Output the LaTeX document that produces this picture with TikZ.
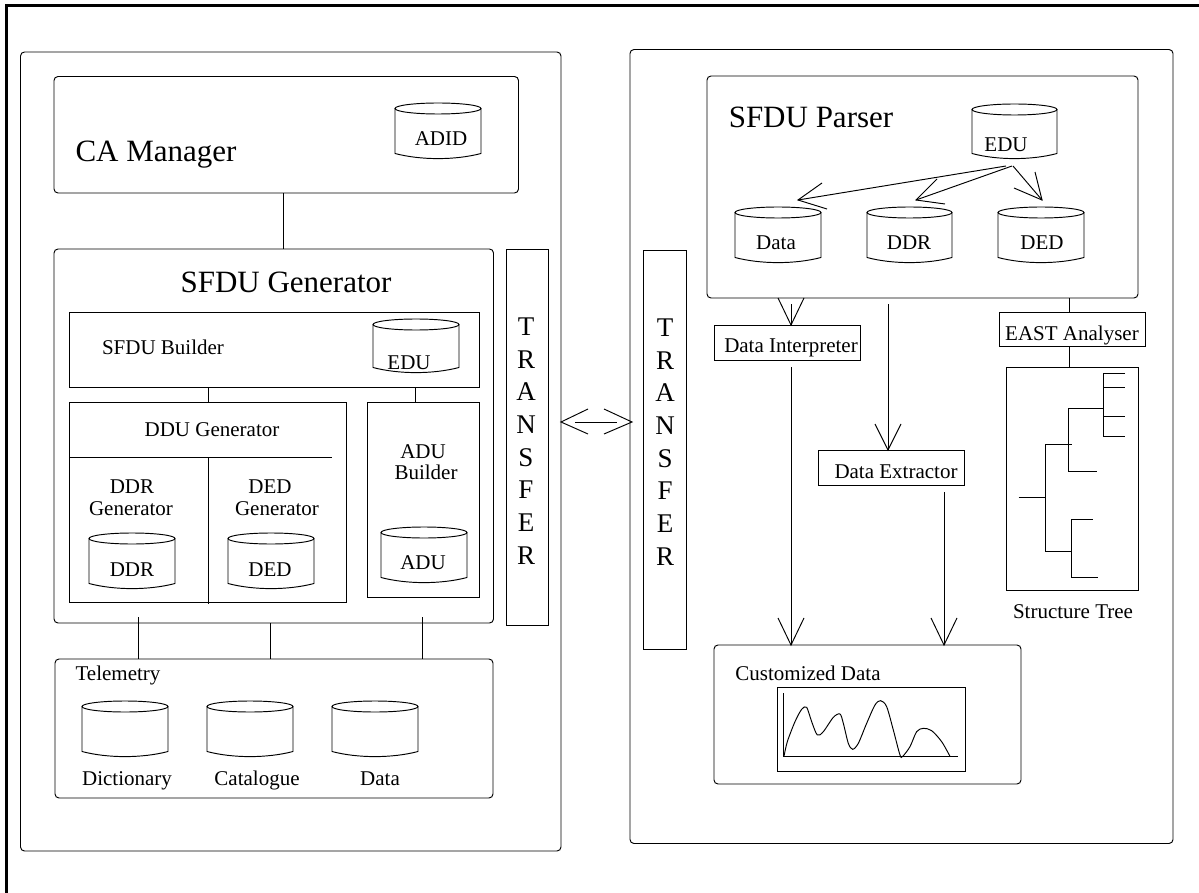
\documentclass[tikz,border=0pt]{standalone}
\usepackage{fontspec}
\setmainfont{Liberation Serif}
\usetikzlibrary{fit,calc}
\tikzset{
  every path/.style={line width=0.95pt},
  plainbox/.style={draw,inner sep=0pt,outer sep=0pt},
  roundbox/.style={plainbox,rounded corners=4pt},
  labelsmall/.style={inner sep=0pt,anchor=base,font=\fontsize{21}{23}\selectfont},
  labellarge/.style={inner sep=0pt,anchor=base,font=\fontsize{31}{33}\selectfont},
  labelstack/.style={inner sep=0pt,align=center,font=\fontsize{27}{32.7}\selectfont},
}
% \bx{style}{name}{x1}{y1}{x2}{y2}
\newcommand{\bx}[6]{\node[#1,fit={(#3,#4)(#5,#6)}] (#2) {};}
% \cyl{name}{x1}{y1}{x2}{y2}
\newcommand{\cyl}[5]{%
  \draw ({(#2+#4)/2},{#3+5.5}) ellipse [x radius={(#4-#2)/2},y radius=5.5];
  \draw (#2,{#3+5.5}) -- (#2,{#5-5.5}) .. controls ({#2+(#4-#2)*0.3},{#5+1.3}) and ({#2+(#4-#2)*0.7},{#5+1.3}) .. (#4,{#5-5.5}) -- (#4,{#3+5.5});
  \coordinate (#1) at ({(#2+#4)/2},{(#3+#5)/2});
}
% \opentip{tip}{barb1}{barb2}
\newcommand{\opentip}[3]{\draw (#2) -- (#1) -- (#3);}
\begin{document}
\begin{tikzpicture}[x=1pt,y=-1pt]
\useasboundingbox (0,0) rectangle (1199,893);
\fill[white] (0,0) rectangle (1199,893);
% outer frame
\coordinate (frameA) at (6,893);
\coordinate (frameB) at (6,6);
\coordinate (frameC) at (1199,6);
\draw[line width=3pt] (frameA) -- (frameB) -- (frameC);
% panels
\bx{roundbox}{leftpanel}{20.5}{52}{561}{851}
\bx{roundbox}{rightpanel}{630}{49.5}{1173}{843.5}
% ---------- left side
\bx{roundbox}{ca}{54}{76.5}{518.5}{193}
\cyl{adid}{395}{103}{481}{159}
\node[labelsmall] (adidt) at (441,146) {ADID};
\node[labellarge] (cat) at (156,162) {CA Manager};
\bx{roundbox}{gen}{54}{249}{493.5}{623}
\node[labellarge] (gent) at (286,293) {SFDU Generator};
\draw (283,0 |- ca.south) -- (283,0 |- gen.north);
\bx{plainbox}{builder}{69}{312}{479}{387}
\node[labelsmall] (buildert) at (163,354) {SFDU Builder};
\cyl{edua}{373}{319}{459}{373}
\node[labelsmall] (eduat) at (409,369) {EDU};
\bx{plainbox}{ddu}{69}{402}{346}{602}
\node[labelsmall] (ddut) at (212,436) {DDU Generator};
\coordinate (dduline) at (332,457);
\draw (ddu.west |- dduline) -- (dduline);
\coordinate (ddutail) at (208,604);
\draw (208,457) -- (ddutail);
\bx{plainbox}{adu}{367}{402}{479}{597}
\draw (208,0 |- builder.south) -- (208,0 |- ddu.north);
\draw (415,0 |- builder.south) -- (415,0 |- adu.north);
\node[labelsmall] (ddrg1) at (132,493) {DDR};
\node[labelsmall] (ddrg2) at (131,515) {Generator};
\node[labelsmall] (dedg1) at (270,493) {DED};
\node[labelsmall] (dedg2) at (277,515) {Generator};
\node[labelsmall] (adug1) at (423,458) {ADU};
\node[labelsmall] (adug2) at (426,479) {Builder};
\cyl{ddra}{89}{533}{175}{589}
\node[labelsmall] (ddrat) at (132,576) {DDR};
\cyl{deda}{228}{533}{314}{589}
\node[labelsmall] (dedat) at (270,576) {DED};
\cyl{adua}{381}{527}{467}{583}
\node[labelsmall] (aduat) at (423,569) {ADU};
% telemetry
\bx{roundbox}{tele}{55}{659}{493}{798}
\node[labelsmall] (telet) at (118,680) {Telemetry};
\cyl{dict}{82}{701}{168}{757}
\cyl{cata}{207}{701}{293}{757}
\cyl{tdata}{332}{701}{418}{757}
\node[labelsmall] (dictt) at (127,785) {Dictionary};
\node[labelsmall] (catat) at (257,785) {Catalogue};
\node[labelsmall] (tdatat) at (380,785) {Data};
\coordinate (t1) at (138,617);
\coordinate (t3) at (422,617);
\draw (t1) -- (t1 |- tele.north);
\draw (270,0 |- gen.south) -- (270,0 |- tele.north);
\draw (t3) -- (t3 |- tele.north);
% transfer
\bx{plainbox}{tl}{506}{249}{548}{625}
\bx{plainbox}{tr}{643}{250}{686}{649}
\node[labelstack] (tlt) at (526,441) {T\\R\\A\\N\\S\\F\\E\\R};
\node[labelstack] (trt) at (665,442) {T\\R\\A\\N\\S\\F\\E\\R};
\coordinate (tipL) at (561,422);
\coordinate (tipR) at (632,422);
\opentip{tipL}{588,409}{588,434}
\opentip{tipR}{604,409}{604,434}
\draw (575,422) -- (617,422);
% ---------- right side
\bx{roundbox}{parser}{707}{76}{1138}{298}
\node[labellarge] (parsert) at (811,128) {SFDU Parser};
\cyl{edub}{972}{104}{1057}{159}
\node[labelsmall] (edubt) at (1006,152) {EDU};
\cyl{datb}{735}{207}{821}{263}
\cyl{ddrb}{867}{207}{952}{263}
\cyl{dedb}{998}{207}{1084}{263}
\node[labelsmall] (datbt) at (776,250) {Data};
\node[labelsmall] (ddrbt) at (909,250) {DDR};
\node[labelsmall] (dedbt) at (1042,250) {DED};
\coordinate (es1) at (1006,166);
\coordinate (es2) at (1012,166);
\coordinate (es3) at (1013,166);
\coordinate (et1) at (798,200);
\coordinate (et2) at (916,200);
\coordinate (et3) at (1042,200);
\draw (es1) -- (et1);
\opentip{et1}{822,183}{827,209}
\draw (es2) -- (et2);
\opentip{et2}{937,179}{945,204}
\draw (es3) -- (et3);
\opentip{et3}{1035,172}{1014,188}
\bx{plainbox}{interp}{714}{325}{860}{360}
\node[labelsmall] (interpt) at (791,352) {Data Interpreter};
\bx{plainbox}{extr}{818}{450}{964}{485}
\node[labelsmall] (extrt) at (896,478) {Data Extractor};
\bx{plainbox}{east}{999}{312}{1145}{346}
\node[labelsmall] (eastt) at (1072,340) {EAST Analyser};
\bx{plainbox}{tree}{1006}{367}{1138}{590}
\node[labelsmall] (treet) at (1073,618) {Structure Tree};
\draw (1069,0 |- parser.south) -- (1069,0 |- east.north);
\draw (1069,0 |- east.south) -- (1069,0 |- tree.north);
% arrows
\coordinate (a1s) at (791,304);
\draw (a1s) -- (791,0 |- interp.north);
\opentip{791,0 |- interp.north}{778,298}{804,298}
\coordinate (a2s) at (888,304);
\draw (a2s) -- (888,0 |- extr.north);
\opentip{888,0 |- extr.north}{875,424}{901,424}
\bx{roundbox}{cust}{714}{645}{1021}{784}
\node[labelsmall] (custt) at (808,680) {Customized Data};
\coordinate (a3s) at (791,367);
\draw (a3s) -- (791,0 |- cust.north);
\opentip{791,0 |- cust.north}{778,618}{804,618}
\coordinate (a4s) at (944,492);
\draw (a4s) -- (944,0 |- cust.north);
\opentip{944,0 |- cust.north}{931,618}{957,618}
% tree
\begin{scope}[shift={(990,350)},x=0.3333pt,y=-0.3333pt]
\draw (405,70) -- (340,70) -- (340,260) -- (405,260);
\draw (340,113) -- (405,113);
\draw (340,198) -- (405,198);
\draw (340,176) -- (235,176) -- (235,363) -- (322,363);
\draw (245,284) -- (165,284) -- (165,603) -- (245,603);
\draw (86,443) -- (165,443);
\draw (308,507) -- (245,507) -- (245,682) -- (323,682);
\end{scope}
% chart
\bx{plainbox}{chart}{777}{687}{965}{771}
\begin{scope}[shift={(710,640)},x=0.3333pt,y=-0.3333pt]
\draw (220,160) -- (220,349) -- (743,349);
\draw[smooth,tension=0.5] plot coordinates {(222,349)(232,305)(255,245)(275,208)(290,202)(305,245)(322,285)(340,275)(370,232)(390,222)(400,250)(415,310)(428,328)(445,310)(470,250)(495,195)(512,182)(530,200)(550,270)(570,345)(578,349)(600,320)(620,275)(640,265)(665,272)(695,305)(720,349)};
\end{scope}
\end{tikzpicture}
\end{document}
